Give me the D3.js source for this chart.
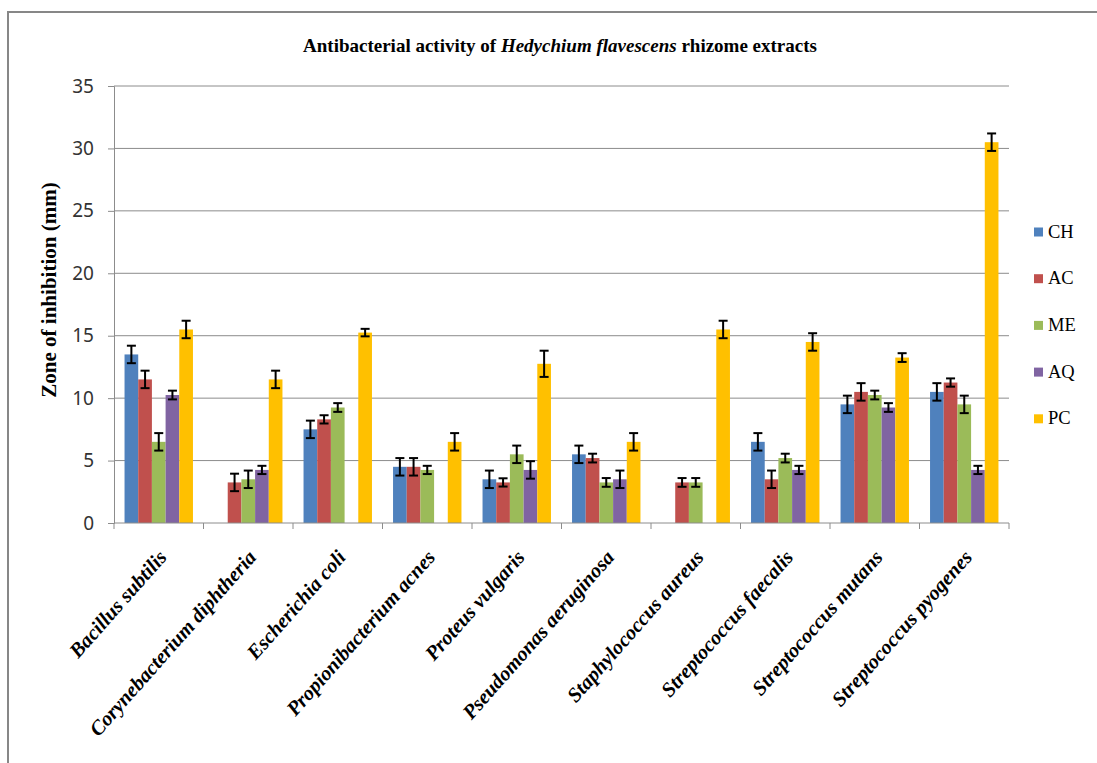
<!DOCTYPE html>
<html>
<head>
<meta charset="utf-8">
<script src="https://cdn.jsdelivr.net/npm/d3@7"></script>
<style>
  html, body { margin: 0; padding: 0; background: #fff; }
  svg { display: block; }
  .serif { font-family: "Liberation Serif", "DejaVu Serif", "Noto Serif", serif; }
  .sans { font-family: "Noto Sans", "Open Sans", sans-serif; }
</style>
</head>
<body>
<svg id="chart" width="1097" height="763"></svg>
<script>
const categories = ["Bacillus subtilis", "Corynebacterium diphtheria", "Escherichia coli",
  "Propionibacterium acnes", "Proteus vulgaris", "Pseudomonas aeruginosa",
  "Staphylococcus aureus", "Streptococcus faecalis", "Streptococcus mutans", "Streptococcus pyogenes"];
const seriesNames = ["CH", "AC", "ME", "AQ", "PC"];
const seriesColors = ["#4F81BD", "#C0504D", "#9BBB59", "#8064A2", "#FFC000"];
const CH = [13.5, 0, 7.5, 4.5, 3.5, 5.5, 0, 6.5, 9.5, 10.5];
const AC = [11.5, 3.25, 8.3, 4.5, 3.25, 5.2, 3.25, 3.5, 10.5, 11.25];
const ME = [6.5, 3.5, 9.25, 4.25, 5.5, 3.25, 3.25, 5.2, 10.25, 9.5];
const AQ = [10.25, 4.25, 0, 0, 4.25, 3.5, 0, 4.25, 9.25, 4.25];
const PC = [15.5, 11.5, 15.25, 6.5, 12.75, 6.5, 15.5, 14.5, 13.25, 30.5];
const CH_err = [0.7, 0, 0.7, 0.7, 0.7, 0.7, 0, 0.7, 0.7, 0.7];
const AC_err = [0.7, 0.7, 0.33, 0.7, 0.33, 0.35, 0.35, 0.7, 0.7, 0.33];
const ME_err = [0.7, 0.7, 0.35, 0.33, 0.7, 0.35, 0.35, 0.35, 0.35, 0.7];
const AQ_err = [0.35, 0.33, 0, 0, 0.7, 0.7, 0, 0.33, 0.35, 0.33];
const PC_err = [0.7, 0.7, 0.3, 0.7, 1.05, 0.7, 0.7, 0.7, 0.35, 0.7];
const yTicks = [0, 5, 10, 15, 20, 25, 30, 35];

const values = [CH, AC, ME, AQ, PC];
const errors = [CH_err, AC_err, ME_err, AQ_err, PC_err];

const svg = d3.select("#chart");
const plotL = 114, plotR = 1009, plotT = 86, plotB = 523;

// outer border
svg.append("rect").attr("x", 8).attr("y", 12).attr("width", 1200).attr("height", 900)
  .attr("fill", "none").attr("stroke", "#878787").attr("stroke-width", 2);

const x = d3.scaleBand().domain(categories).range([plotL, plotR]).padding(0);
const xs = d3.scaleBand().domain(seriesNames).range([0, x.bandwidth()]).paddingInner(0).paddingOuter(0.77);
const y = d3.scaleLinear().domain([0, 35]).range([plotB, plotT]);
const color = d3.scaleOrdinal().domain(seriesNames).range(seriesColors);

// gridlines
svg.append("g").selectAll("line").data(yTicks.filter(d => d > 0)).join("line")
  .attr("x1", plotL).attr("x2", plotR)
  .attr("y1", d => y(d)).attr("y2", d => y(d))
  .attr("stroke", "#8c8c8c").attr("stroke-width", 1);

// y axis
const yAxis = d3.axisLeft(y).tickValues(yTicks).tickSize(6).tickPadding(14);
const gy = svg.append("g").attr("transform", `translate(${plotL},0)`).call(yAxis);
gy.attr("font-family", null).attr("font-size", null);
gy.select(".domain").attr("stroke", "#8c8c8c");
gy.selectAll(".tick line").attr("stroke", "#8c8c8c");
gy.selectAll(".tick text").attr("class", "sans").style("font-size", "19px").attr("fill", "#333");

// bars
const groups = svg.append("g").selectAll("g").data(categories).join("g")
  .attr("transform", d => `translate(${x(d)},0)`);

seriesNames.forEach((s, si) => {
  groups.filter((d, i) => values[si][i] > 0)
    .append("rect")
    .attr("x", xs(s)).attr("width", xs.bandwidth())
    .attr("y", (d) => y(values[si][categories.indexOf(d)]))
    .attr("height", (d) => plotB - y(values[si][categories.indexOf(d)]))
    .attr("fill", color(s));
});

// error bars
seriesNames.forEach((s, si) => {
  const cx = xs(s) + xs.bandwidth() / 2;
  const eg = groups.filter((d, i) => values[si][i] > 0 && errors[si][i] > 0).append("g")
    .attr("stroke", "#000").attr("stroke-width", 2);
  const hi = d => { const i = categories.indexOf(d); return y(values[si][i] + errors[si][i]); };
  const lo = d => { const i = categories.indexOf(d); return y(values[si][i] - errors[si][i]); };
  eg.append("line").attr("x1", cx).attr("x2", cx).attr("y1", hi).attr("y2", lo);
  eg.append("line").attr("x1", cx - 4.5).attr("x2", cx + 4.5).attr("y1", hi).attr("y2", hi);
  eg.append("line").attr("x1", cx - 4.5).attr("x2", cx + 4.5).attr("y1", lo).attr("y2", lo);
});

// x axis line and boundary ticks
svg.append("line").attr("x1", plotL).attr("x2", plotR).attr("y1", plotB).attr("y2", plotB)
  .attr("stroke", "#8c8c8c").attr("stroke-width", 1);
const bounds = categories.map(c => x(c)).concat([x(categories[categories.length - 1]) + x.step()]);
svg.append("g").selectAll("line").data(bounds).join("line")
  .attr("x1", d => d).attr("x2", d => d).attr("y1", plotB).attr("y2", plotB + 6)
  .attr("stroke", "#8c8c8c");

// x labels
svg.append("g").selectAll("text").data(categories).join("text")
  .attr("class", "serif")
  .attr("transform", d => `translate(${x(d) + x.bandwidth() / 2 + 9},${plotB + 35}) rotate(-48.5)`)
  .attr("text-anchor", "end")
  .style("font-weight", "bold").style("font-style", "italic").style("font-size", "20.5px")
  .attr("fill", "#000")
  .text(d => d);

// title
const title = svg.append("text").attr("class", "serif").attr("x", 560).attr("y", 52).attr("text-anchor", "middle")
  .style("font-weight", "bold").style("font-size", "19px").attr("fill", "#000");
title.append("tspan").text("Antibacterial activity of ");
title.append("tspan").style("font-style", "italic").text("Hedychium flavescens");
title.append("tspan").text(" rhizome extracts");

// y title
svg.append("text").attr("class", "serif").attr("transform", `translate(56,290) rotate(-90)`)
  .attr("text-anchor", "middle")
  .style("font-weight", "bold").style("font-size", "21px").attr("fill", "#000")
  .text("Zone of inhibition (mm)");

// legend
const legend = svg.append("g").selectAll("g").data(seriesNames).join("g")
  .attr("transform", (d, i) => `translate(1034,${232 + i * 46.7})`);
legend.append("rect").attr("x", 0).attr("y", -4.5).attr("width", 9).attr("height", 9)
  .attr("fill", d => color(d));
legend.append("text").attr("class", "serif").attr("x", 14).attr("y", 5.5)
  .style("font-size", "18.5px").attr("fill", "#000").text(d => d);
</script>
</body>
</html>
